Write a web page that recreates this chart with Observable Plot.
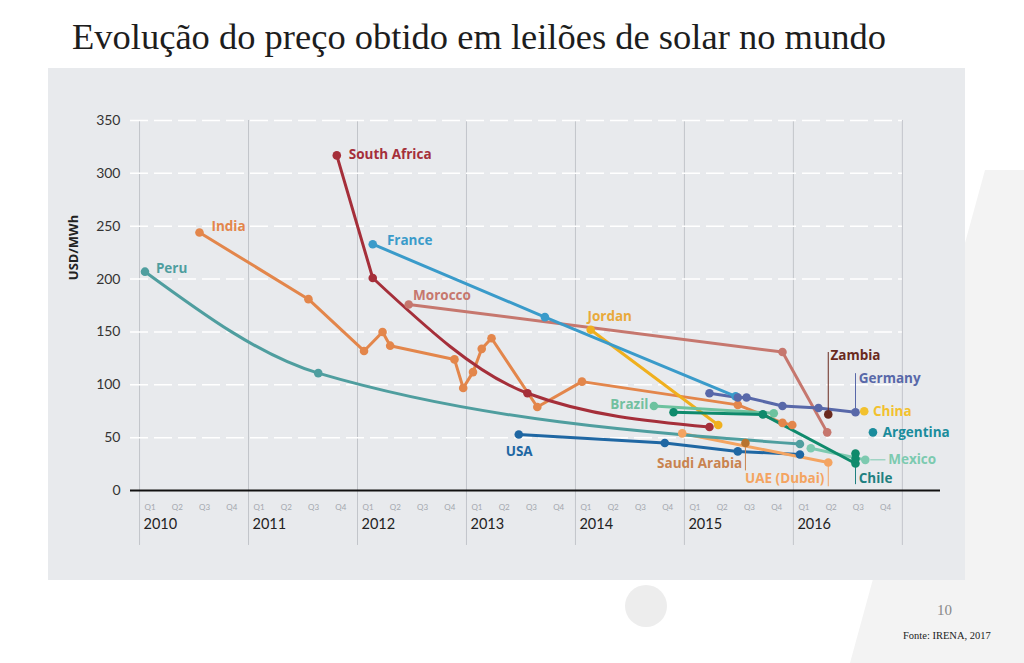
<!DOCTYPE html>
<html><head><meta charset="utf-8">
<script src="https://cdn.jsdelivr.net/npm/d3@7"></script>
<script src="https://cdn.jsdelivr.net/npm/@observablehq/plot@0.6"></script>
<style>
body{margin:0;background:#fff;width:1024px;height:663px;overflow:hidden;position:relative;font-family:Lato,sans-serif}
#title{position:absolute;left:72px;top:15px;font-family:"Liberation Serif",serif;font-size:36.5px;color:#1d1d1d;white-space:nowrap}
#chart{position:absolute;left:48px;top:68px}
#deco{position:absolute;left:0;top:0}
#page{position:absolute;left:937px;top:602px;font-family:"Liberation Serif",serif;font-size:15px;color:#888}
#src{position:absolute;left:903px;top:630px;font-family:"Liberation Serif",serif;font-size:10.5px;color:#222}
</style></head>
<body>
<svg id="deco" width="1024" height="663"><polygon points="985,170 1024,170 1024,663 850,663" fill="#f3f3f3"/><circle cx="646" cy="606" r="21" fill="#ededed"/></svg>
<div id="title">Evolução do preço obtido em leilões de solar no mundo</div>
<div id="chart"></div>
<div id="page">10</div>
<div id="src">Fonte: IRENA, 2017</div>
<script>
// ---- data (time in fractional years, price in USD/MWh) ----
const peru        = [[2010.05,207],[2011.64,111],[2016.06,44]];
const india       = [[2010.55,244],[2011.55,181],[2012.06,132],[2012.23,150],[2012.30,137],[2012.89,124],[2012.97,97],[2013.06,112],[2013.14,134],[2013.23,144],[2013.65,79],[2014.06,103],[2015.49,81],[2015.90,64],[2015.99,62]];
const southAfrica = [[2011.81,317],[2012.14,201],[2013.56,92],[2015.23,60]];
const france      = [[2012.14,233],[2013.72,164],[2015.47,89]];
const morocco     = [[2012.47,176],[2015.90,131],[2016.31,55]];
const jordan      = [[2014.14,152],[2015.31,62]];
const brazil      = [[2014.72,80],[2015.82,73]];
const usa         = [[2013.48,53],[2014.82,45],[2015.49,37],[2016.06,34]];
const germany     = [[2015.23,92],[2015.49,88],[2015.57,88],[2015.90,80],[2016.23,78],[2016.57,74]];
const chile       = [[2014.90,74],[2015.72,72],[2016.57,25.5]];
const chileExtra  = [[2016.57,35],[2016.57,30]];
const mexico      = [[2016.16,40],[2016.66,29]];
const uae         = [[2014.98,54],[2016.32,26.5]];
const saudi       = [[2015.56,45]];
const zambia      = [[2016.32,72]];
const china       = [[2016.65,75]];
const argentina   = [[2016.73,55]];

const yTicks = [0,50,100,150,200,250,300,350];
const years = [2010,2011,2012,2013,2014,2015,2016];
const yearLines = [2010,2011,2012,2013,2014,2015,2016,2017];
const quarters = ["Q1","Q2","Q3","Q4"];

const colors = {
  Peru:"#4f9e9f", India:"#e3864b", "South Africa":"#a52f3a", France:"#3a9bca",
  Morocco:"#c6776e", Jordan:"#f0b01e", Brazil:"#6dc29f", USA:"#1f67a3",
  Germany:"#5868a9", Chile:"#0f8a6c", Mexico:"#7dcab0", "UAE (Dubai)":"#f4a461",
  "Saudi Arabia":"#b8742f", Zambia:"#6a2a1e", China:"#f2c12e", Argentina:"#1a8c9c"
};
const labelColors = {...colors, Jordan:"#e9a93b", "Saudi Arabia":"#c9834f", Chile:"#1f8080", Brazil:"#72c0a0"};

// [name, points, index from which the line is drawn as a smooth curve (null = straight)]
const series = [
  ["Peru",peru,0],["India",india,null],["South Africa",southAfrica,1],["France",france,0],
  ["Morocco",morocco,null],["Jordan",jordan,null],["Brazil",brazil,null],["USA",usa,null],
  ["Germany",germany,null],["UAE (Dubai)",uae,null],["Mexico",mexico,null],["Chile",chile,null],
  ["Saudi Arabia",saudi,null],["Zambia",zambia,null],["China",china,null],["Argentina",argentina,null]
];
const toRows = (c, pts) => pts.map(([t,v]) => ({c,t,v}));
const rows = series.flatMap(([c,pts]) => toRows(c,pts));
const straightRows = series.flatMap(([c,pts,s]) => toRows(c, s === null ? pts : pts.slice(0, s + 1)));
const smoothRows = series.flatMap(([c,pts,s]) => s === null ? [] : toRows(c, pts.slice(s)));
const extraRows = toRows("Chile", chileExtra);

// annotation placement
const labelsStart = [
  ["Peru",2010.15,210],["India",2010.66,250],["South Africa",2011.92,318],["France",2012.27,236],
  ["Morocco",2012.51,184],["Jordan",2014.11,164],["USA",2013.36,37],["Zambia",2016.34,128],
  ["Germany",2016.60,106],["China",2016.73,75],["Argentina",2016.82,55],["Mexico",2016.87,29],["Chile",2016.60,11.5]
].map(([c,t,v])=>({c,t,v}));
const labelsEnd = [["Brazil",2014.67,81],["UAE (Dubai)",2016.285,11.5],["Saudi Arabia",2015.53,25.5]].map(([c,t,v])=>({c,t,v}));
const leaders = [
  ["Zambia",2016.32,131,2016.32,76],["Germany",2016.57,111,2016.57,78],["Saudi Arabia",2015.56,41,2015.56,19],
  ["UAE (Dubai)",2016.32,23.5,2016.32,4],["Chile",2016.57,22.5,2016.57,6],["Mexico",2016.705,29,2016.845,29]
].map(([c,x1,y1,x2,y2])=>({c,x1,y1,x2,y2}));

const qRows = years.flatMap(y => quarters.map((q,i) => ({t: y + i/4, q})));

const xStart = 2009.917, xEnd = 2017.35;
const labelFont = "'Open Sans', Lato, sans-serif";

const chart = Plot.plot({
  width: 917, height: 512,
  marginLeft: 82, marginRight: 25, marginTop: 52, marginBottom: 90,
  style: {background:"#e8eaed", fontFamily:"Lato, sans-serif"},
  x: {domain:[xStart,xEnd], axis:null},
  y: {domain:[0,350], axis:null},
  marks: [
    Plot.ruleX(yearLines, {x: d=>d, y1: 350, y2: -52, stroke:"#c2c5ca", strokeWidth:1}),
    Plot.ruleY(yTicks.filter(d=>d>0), {y: d=>d, x1: xStart, x2: 2017, stroke:"#ffffff", strokeWidth:1.5, strokeDasharray:"18,6"}),
    Plot.ruleY([0], {x1: xStart, x2: xEnd, stroke:"#111", strokeWidth:2}),
    Plot.text(yTicks, {x: xStart, y: d=>d, text: d=>String(d), textAnchor:"end", dx:-10, fontSize:14, fill:"#333"}),
    Plot.text(["USD/MWh"], {y: 199, frameAnchor:"left", dx:-57, rotate:-90, text:d=>d, fontSize:13, fontWeight:"bold", fill:"#222", fontFamily: labelFont}),
    Plot.text(qRows, {x:"t", y:0, text:"q", textAnchor:"start", dx:5, dy:17, fontSize:8, fill:"#a3a7ad"}),
    Plot.text(years, {x:d=>d, y:0, text:d=>String(d), textAnchor:"start", dx:4, dy:34, fontSize:14.5, fill:"#222"}),
    Plot.line(straightRows, {x:"t", y:"v", z:"c", stroke:d=>colors[d.c], strokeWidth:3}),
    Plot.line(smoothRows, {x:"t", y:"v", z:"c", stroke:d=>colors[d.c], strokeWidth:3, curve:"monotone-x"}),
    Plot.link(leaders, {x1:"x1", y1:"y1", x2:"x2", y2:"y2", stroke:d=>labelColors[d.c], strokeWidth:1}),
    Plot.dot(rows, {x:"t", y:"v", fill:d=>colors[d.c], r:4.3}),
    Plot.dot(extraRows, {x:"t", y:"v", fill:d=>colors[d.c], r:4.3}),
    Plot.text(labelsStart, {x:"t", y:"v", text:"c", fill:d=>labelColors[d.c], textAnchor:"start", fontSize:13.5, fontWeight:"bold", fontFamily: labelFont}),
    Plot.text(labelsEnd, {x:"t", y:"v", text:"c", fill:d=>labelColors[d.c], textAnchor:"end", fontSize:13.5, fontWeight:"bold", fontFamily: labelFont})
  ]
});
document.getElementById("chart").appendChild(chart);
</script>
</body></html>
